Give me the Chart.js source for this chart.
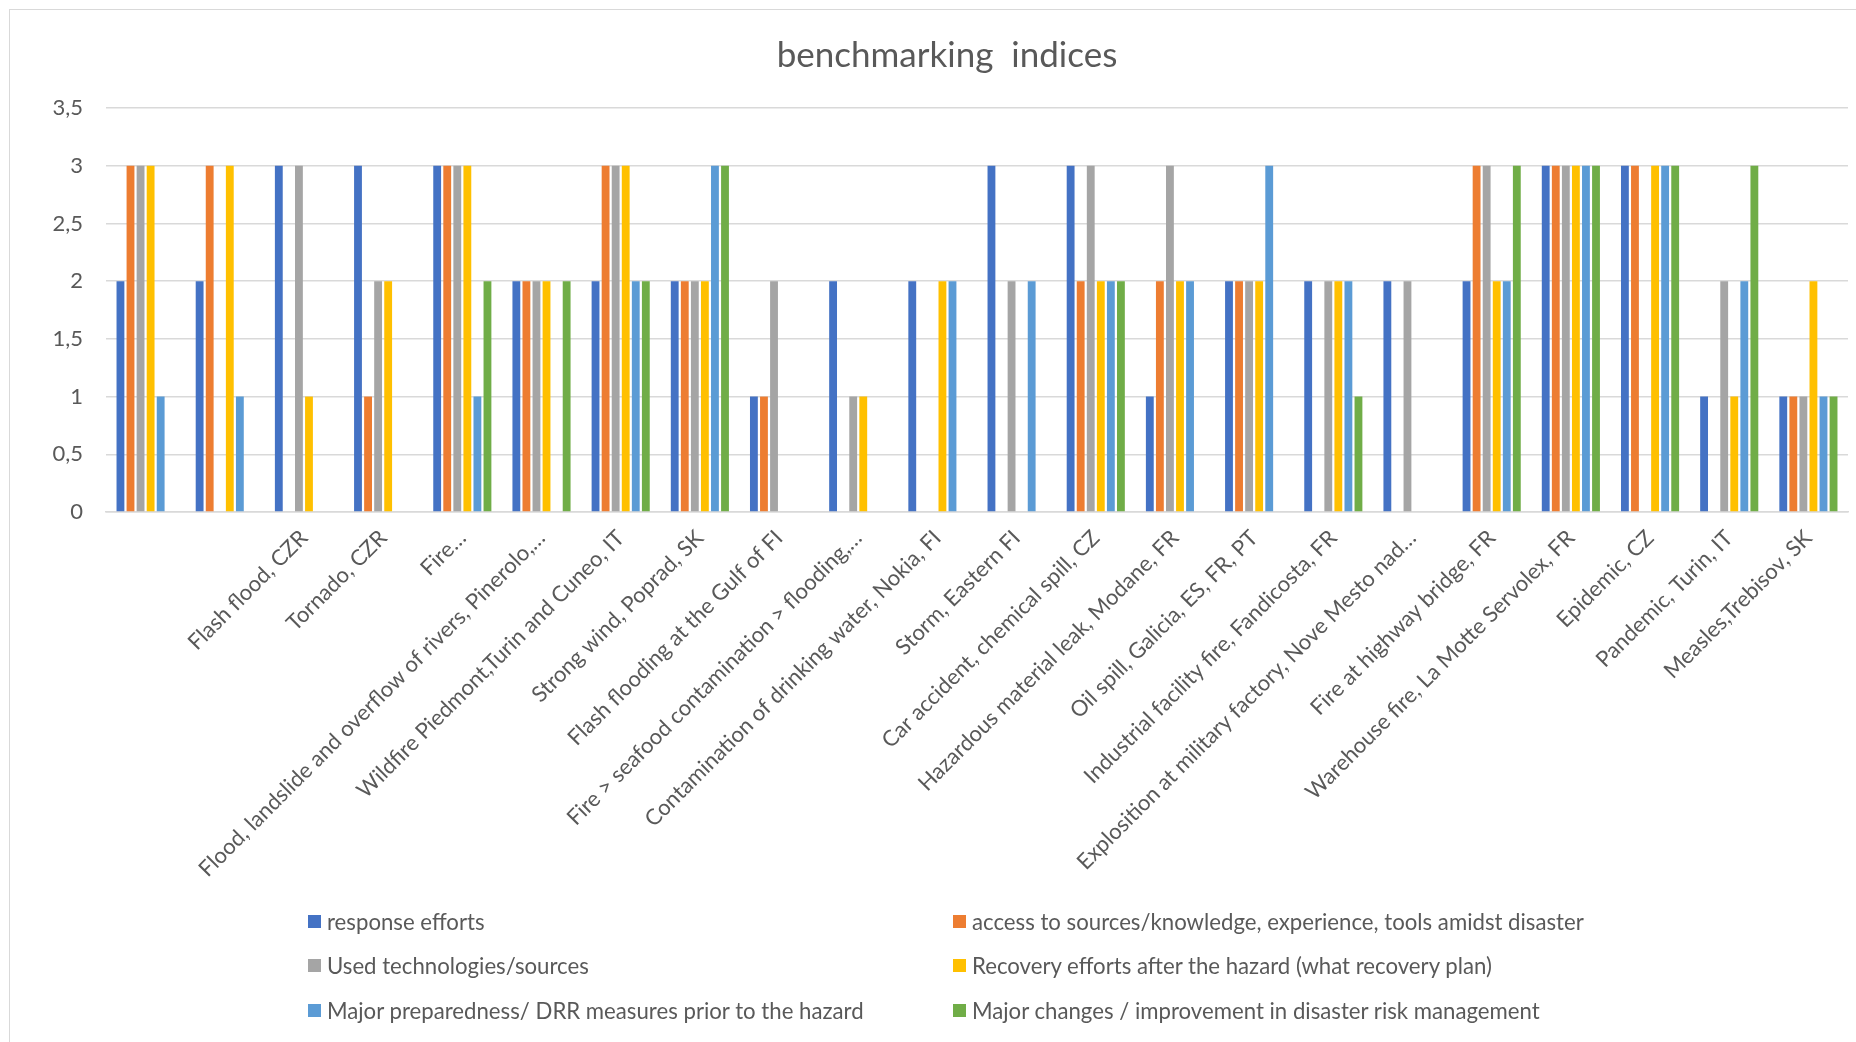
<!DOCTYPE html>
<html>
<head>
<meta charset="utf-8">
<title>benchmarking indices</title>
<script src="https://cdn.jsdelivr.net/npm/chart.js@4.4.1/dist/chart.umd.min.js"></script>
<style>
  html, body { margin: 0; padding: 0; background: #fff; overflow: hidden; }
  #frame { position: absolute; left: 9px; top: 9px; width: 1900px; height: 1100px; border: 1px solid #d9d9d9; }
  #wrap { position: absolute; left: 0; top: 0; width: 1856px; height: 1042px; }
  #legend {
    position: absolute; left: 308px; top: 899.5px;
    display: grid; grid-template-columns: 645px auto;
    font-family: Lato, sans-serif; font-size: 22.2px; color: #595959;
  }
  .item { display: flex; align-items: center; height: 44.3px; white-space: nowrap; }
  .box { width: 13px; height: 13px; margin-right: 6px; flex: none; }
</style>
</head>
<body>
<div id="frame"></div>
<div id="wrap"><canvas id="chart" width="1856" height="1042"></canvas></div>
<div id="legend"></div>
<script>
// categories (first two have no label in the source chart)
const categories = [
  '', '',
  'Flash flood, CZR',
  'Tornado, CZR',
  'Fire…',
  'Flood, landslide and overflow of rivers, Pinerolo,…',
  'Wildfire Piedmont,Turin and Cuneo, IT',
  'Strong wind, Poprad, SK',
  'Flash flooding at the Gulf of FI',
  'Fire > seafood contamination > flooding,…',
  'Contamination of drinking water, Nokia, FI',
  'Storm, Eastern FI',
  'Car accident, chemical spill, CZ',
  'Hazardous material leak, Modane, FR',
  'Oil spill, Galicia, ES, FR, PT',
  'Industrial facility fire, Fandicosta, FR',
  'Explosition at military factory, Nove Mesto nad…',
  'Fire at highway bridge, FR',
  'Warehouse fire, La Motte Servolex, FR',
  'Epidemic, CZ',
  'Pandemic, Turin, IT',
  'Measles,Trebisov, SK'
];

// series values
const responseEfforts = [2, 2, 3, 3, 3, 2, 2, 2, 1, 2, 2, 3, 3, 1, 2, 2, 2, 2, 3, 3, 1, 1];
const accessSources   = [3, 3, 0, 1, 3, 2, 3, 2, 1, 0, 0, 0, 2, 2, 2, 0, 0, 3, 3, 3, 0, 1];
const usedTech        = [3, 0, 3, 2, 3, 2, 3, 2, 2, 1, 0, 2, 3, 3, 2, 2, 2, 3, 3, 0, 2, 1];
const recoveryEfforts = [3, 3, 1, 2, 3, 2, 3, 2, 0, 1, 2, 0, 2, 2, 2, 2, 0, 2, 3, 3, 1, 2];
const preparedness    = [1, 1, 0, 0, 1, 0, 2, 3, 0, 0, 2, 2, 2, 2, 3, 2, 0, 2, 3, 3, 2, 1];
const drmChanges      = [0, 0, 0, 0, 2, 2, 2, 3, 0, 0, 0, 0, 2, 0, 0, 1, 0, 3, 3, 3, 3, 1];

const seriesNames = [
  'response efforts',
  'access to sources/knowledge, experience, tools amidst disaster',
  'Used technologies/sources',
  'Recovery efforts after the hazard (what recovery plan)',
  'Major preparedness/ DRR measures prior to the hazard',
  'Major changes / improvement in disaster risk management'
];
const seriesValues = [responseEfforts, accessSources, usedTech, recoveryEfforts, preparedness, drmChanges];
const seriesColors = ['#4472C4', '#ED7D31', '#A5A5A5', '#FFC000', '#5B9BD5', '#70AD47'];

// y axis ticks
const yMin = 0, yMax = 3.5, yStep = 0.5;

const textColor = '#595959';
const gridColor = '#d9d9d9';
const fontFamily = 'Lato, sans-serif';

const datasets = seriesNames.map((name, i) => ({
  label: name,
  data: seriesValues[i],
  backgroundColor: seriesColors[i],
  borderWidth: 0,
  categoryPercentage: 0.762,
  barPercentage: 0.78
}));

const chart = new Chart(document.getElementById('chart'), {
  type: 'bar',
  data: { labels: categories, datasets },
  options: {
    responsive: false,
    animation: false,
    layout: { padding: { left: 46, right: 8, top: 0, bottom: 160 } },
    plugins: {
      legend: { display: false },
      tooltip: { enabled: false },
      title: {
        display: true,
        text: 'benchmarking  indices',
        color: textColor,
        font: { family: fontFamily, size: 35, weight: 'normal' },
        padding: { top: 35, bottom: 31 }
      }
    },
    scales: {
      x: {
        grid: { display: false, drawTicks: false },
        border: { display: true, color: gridColor, width: 1.5 },
        ticks: {
          color: textColor,
          font: { family: fontFamily, size: 22 },
          minRotation: 45, maxRotation: 45,
          autoSkip: false,
          padding: 13
        },
        afterFit: scale => { scale.height = 370; }
      },
      y: {
        min: yMin, max: yMax,
        ticks: {
          stepSize: yStep,
          color: textColor,
          font: { family: fontFamily, size: 22 },
          padding: 23,
          callback: v => String(v).replace('.', ',')
        },
        grid: { color: gridColor, lineWidth: 1.5, drawTicks: false },
        border: { display: false },
        afterFit: scale => { scale.width = 60; }
      }
    }
  }
});

// legend in two columns, built from the chart's own datasets
const legendEl = document.getElementById('legend');
chart.data.datasets.forEach(ds => {
  const item = document.createElement('div');
  item.className = 'item';
  item.innerHTML = `<span class="box" style="background:${ds.backgroundColor}"></span><span>${ds.label}</span>`;
  legendEl.appendChild(item);
});
</script>
</body>
</html>
